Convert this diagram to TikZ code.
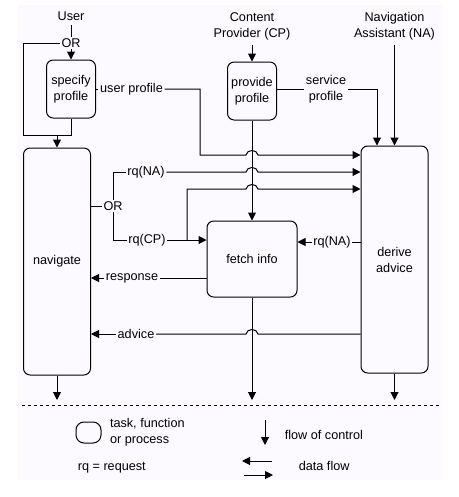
\documentclass[tikz,border=0pt]{standalone}
\usepackage{fontspec}
\setmainfont{Liberation Sans}
\usepackage{tikz}
\usetikzlibrary{arrows.meta}
\usetikzlibrary{positioning}
\definecolor{bgcol}{RGB}{252,250,255}

\begin{document}
\begin{tikzpicture}[x=0.75pt,y=-0.75pt,line width=0.75pt,
  every node/.style={font=\fontsize{9.5}{12}\selectfont,align=center},
  task/.style={draw,rounded corners=5pt,inner sep=0pt},
  lbl/.style={inner sep=1pt},
  flow/.style={-{Triangle[length=6pt,width=6pt]}}]

  \useasboundingbox (0,0) rectangle (458,497);
  \fill[bgcol] (18,5) rectangle (443,480);

  % actors
  \node (user) at (71,16) {User};
  \node[lbl] (orA) at (71,43) {OR};
  \node (cp) at (252,26) {Content\\Provider (CP)};
  \node (na) at (394.5,26) {Navigation\\Assistant (NA)};

  % tasks
  \node[task,minimum width=36.75pt,minimum height=43.5pt] (spec) at (71,89) {specify\\profile};
  \node[task,minimum width=36.75pt,minimum height=43.5pt] (prov) at (252,91) {provide\\profile};
  \node[task,minimum width=50.25pt,minimum height=170.25pt] (nav) at (57,261.5) {navigate};
  \node[task,minimum width=67.5pt,minimum height=57pt] (fetch) at (252,259) {fetch info};
  \node[task,minimum width=50.25pt,minimum height=170.25pt] (derive) at (394.5,259.5) {derive\\advice};

  % user
  \coordinate (join) at (57,135);
  \draw (user) -- (orA);
  \draw[flow] (orA) -- (spec);
  \draw (orA.west) -| (23,135) -- (spec.south |- join) -- (spec.south);
  \draw[flow] (join) -- (nav);

  % user profile
  \node[lbl] (lblUser) at (131.5,89) {user profile};
  \draw (spec) -- (lblUser);
  \draw[flow] (lblUser.east) -| (200,155) -- (246,155) .. controls (247,149) and (257,149) .. (258,155) -- (derive.west |- 0,155);

  % content provider
  \draw[flow] (cp) -- (prov);
  \draw[flow] (prov) -- (fetch);
  \node[lbl] (lblServ) at (326,89) {service\\profile};
  \draw (prov.east |- lblServ) -- (lblServ);
  \draw[flow] (lblServ.east) -| (derive.north -| 377,0);

  % navigation assistant
  \draw[flow] (na) -- (derive);

  % requests from navigate
  \node[lbl] (orB) at (113,206) {OR};
  \node[lbl] (lblNA) at (146,172) {rq(NA)};
  \node[lbl] (lblCP) at (147,240) {rq(CP)};
  \coordinate (fork) at (187,240);
  \draw (nav.east |- orB) -- (orB);
  \draw (orB.north) |- (lblNA.west);
  \draw[flow] (lblNA.east) -- (246,172) .. controls (247,166) and (257,166) .. (258,172) -- (derive.west |- 0,172);
  \draw (orB.south) |- (lblCP.west);
  \draw[flow] (lblCP.east) -- (fetch.west |- lblCP);
  \draw[flow] (fork) |- (246,189) .. controls (247,183) and (257,183) .. (258,189) -- (derive.west |- 0,189);

  % fetch info and advice
  \node[lbl] (lblNA2) at (332,242) {rq(NA)};
  \draw (derive.west |- lblNA2) -- (lblNA2);
  \draw[flow] (lblNA2) -- (fetch.east |- lblNA2);
  \node[lbl] (lblResp) at (132,278) {response};
  \draw (fetch.west |- lblResp) -- (lblResp);
  \draw[flow] (lblResp) -- (nav.east |- lblResp);
  \node[lbl] (lblAdv) at (136,334) {advice};
  \draw (derive.west |- lblAdv) -- (258,334) .. controls (257,328) and (247,328) .. (246,334) -- (lblAdv);
  \draw[flow] (lblAdv) -- (nav.east |- lblAdv);

  % control leaves
  \coordinate (navEnd) at (57,400);
  \coordinate (fetchEnd) at (252,400);
  \coordinate (deriveEnd) at (394.5,400);
  \draw[flow] (nav) -- (navEnd);
  \draw[flow] (fetch) -- (fetchEnd);
  \draw[flow] (derive) -- (deriveEnd);
  \draw[dash pattern=on 2.25pt off 2.25pt] (22,405) -- (441,405);

  % legend
  \node[task,rounded corners=6pt,minimum width=18.75pt,minimum height=15.75pt] (legTask) at (88.5,432.5) {};
  \node[lbl,right=5pt of legTask,align=left] (legTaskTxt) {task, function\\or process};
  \node[lbl,anchor=west] (legRq) at (76,468) {rq = request};
  \coordinate (ctlTop) at (265,420);
  \coordinate (ctlEnd) at (265,445);
  \draw[flow] (ctlTop) -- (ctlEnd);
  \node[lbl,anchor=west] (legCtl) at (283,435) {flow of control};
  \coordinate (backA) at (272,461);
  \coordinate (backB) at (242,461);
  \coordinate (fwdA) at (244,475);
  \coordinate (fwdB) at (273,475);
  \draw[flow] (backA) -- (backB);
  \draw[flow] (fwdA) -- (fwdB);
  \node[lbl,anchor=west] (legData) at (297,466) {data flow};
\end{tikzpicture}
\end{document}
